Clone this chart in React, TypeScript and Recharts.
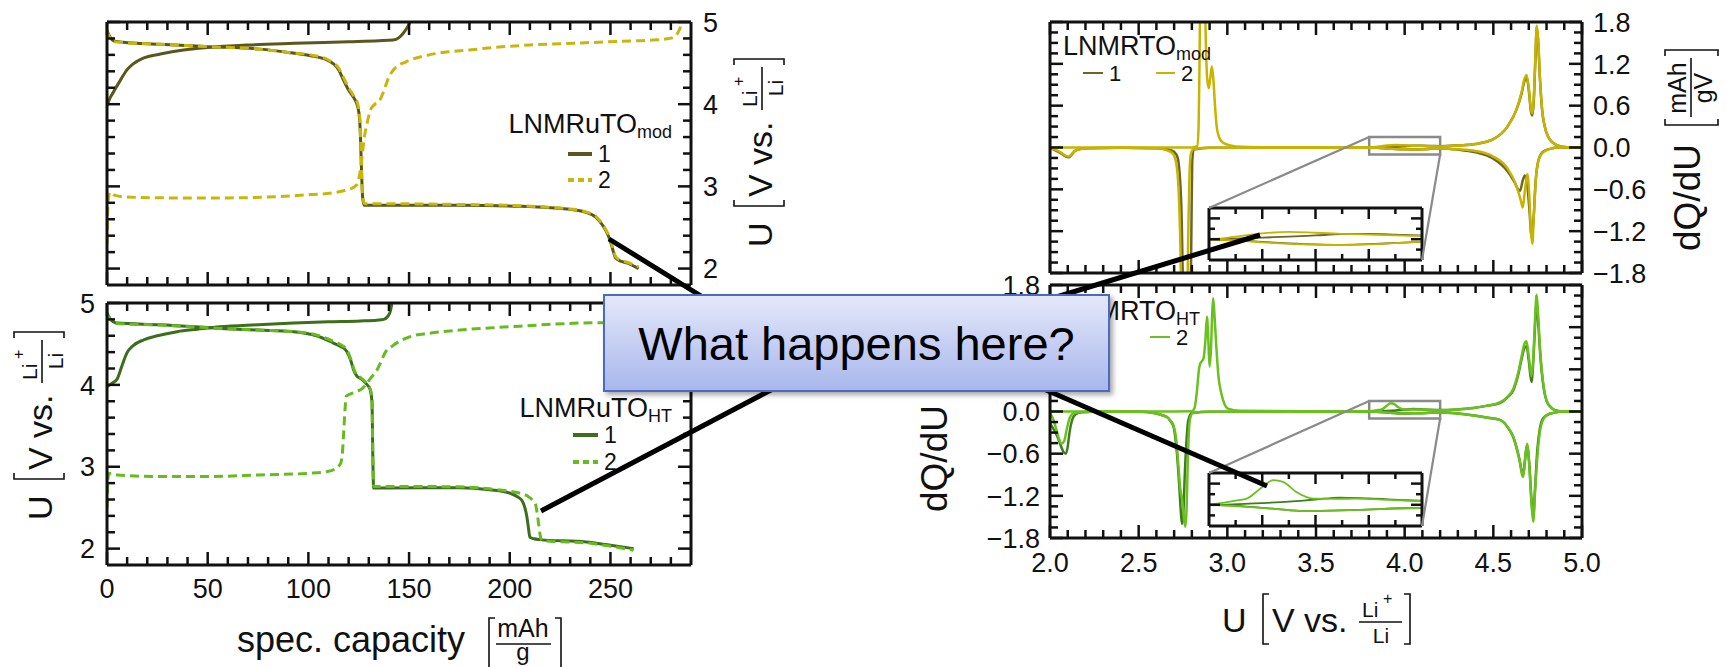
import React from 'react';
import { LineChart, Line, XAxis, YAxis, ReferenceArea } from 'recharts';

const W = 1727;
const H = 667;
const FONT = '"Liberation Sans", Arial, Helvetica, sans-serif';
const INK = '#111';

// ---- tick positions ----
const capTicks = [0, 10, 20, 30, 40, 50, 60, 70, 80, 90, 100, 110, 120, 130, 140, 150, 160, 170, 180, 190, 200, 210, 220, 230, 240, 250, 260, 270, 280];
const voltTicks = [2, 2.2, 2.4, 2.6, 2.8, 3, 3.2, 3.4, 3.6, 3.8, 4, 4.2, 4.4, 4.6, 4.8, 5];
const uTicks = [2, 2.1, 2.2, 2.3, 2.4, 2.5, 2.6, 2.7, 2.8, 2.9, 3, 3.1, 3.2, 3.3, 3.4, 3.5, 3.6, 3.7, 3.8, 3.9, 4, 4.1, 4.2, 4.3, 4.4, 4.5, 4.6, 4.7, 4.8, 4.9, 5];
const dqTicks = [-1.8, -1.65, -1.5, -1.35, -1.2, -1.05, -0.9, -0.75, -0.6, -0.45, -0.3, -0.15, 0, 0.15, 0.3, 0.45, 0.6, 0.75, 0.9, 1.05, 1.2, 1.35, 1.5, 1.65, 1.8];
const insetUTicks = [3.85, 3.9, 3.95, 4, 4.05, 4.1, 4.15];
const insetQTicks = [-0.05, 0, 0.05, 0.1];

// ---- LNMRuTO_mod : capacity [mAh/g] vs U [V] ----
const modCh1: [number, number][] = [[0, 3.98], [1, 4.05], [3, 4.14], [6.6, 4.29], [10, 4.42], [13, 4.49], [18, 4.56], [26.5, 4.61], [38, 4.66], [50, 4.69], [70, 4.72], [93, 4.74], [120, 4.76], [135, 4.772], [142, 4.78], [145, 4.81], [147, 4.86], [149, 4.93], [150.5, 5.0]];
const modDis1: [number, number][] = [[0, 4.9], [1, 4.84], [3.3, 4.77], [8, 4.755], [26, 4.73], [50, 4.7], [76, 4.67], [90, 4.63], [101, 4.59], [108, 4.55], [112.5, 4.49], [115, 4.42], [117.5, 4.29], [120, 4.17], [122.5, 4.08], [124.5, 3.97], [125.5, 3.8], [126, 3.5], [126.5, 3.1], [127, 2.85], [127.8, 2.77], [130, 2.77], [175, 2.77], [205, 2.757], [220, 2.74], [230, 2.72], [237, 2.69], [243, 2.62], [246, 2.53], [248, 2.45], [250, 2.33], [251.5, 2.2], [252.5, 2.13], [255, 2.09], [258, 2.07], [264, 2.0]];
const modCh2: [number, number][] = [[0, 2.3], [0.5, 2.8], [1.5, 2.93], [4, 2.89], [10, 2.87], [30, 2.86], [60, 2.86], [80, 2.87], [101, 2.9], [112, 2.92], [118, 2.95], [121, 2.97], [124, 3.02], [125.5, 3.15], [126.6, 3.35], [127.8, 3.6], [129, 3.75], [130.7, 3.92], [133, 4.0], [135.7, 4.06], [138, 4.2], [140, 4.33], [142, 4.41], [144, 4.46], [148, 4.51], [152, 4.55], [160, 4.6], [167, 4.63], [180, 4.66], [192, 4.69], [210, 4.72], [235, 4.745], [255, 4.765], [271, 4.78], [278, 4.795], [281, 4.81], [283, 4.85], [284.5, 4.92], [285.5, 5.0]];
const modDis2: [number, number][] = [[0, 4.9], [1, 4.83], [3.3, 4.76], [8, 4.75], [26, 4.73], [50, 4.7], [76, 4.67], [90, 4.63], [101, 4.6], [108, 4.56], [112.5, 4.5], [115, 4.44], [117.5, 4.32], [120, 4.2], [122.5, 4.1], [124.5, 4.0], [125.5, 3.85], [126, 3.55], [126.5, 3.1], [127, 2.87], [127.8, 2.79], [130, 2.79], [175, 2.78], [205, 2.765], [220, 2.745], [230, 2.725], [237, 2.695], [243, 2.63], [246, 2.54], [248, 2.46], [250, 2.35], [251.5, 2.22], [252.5, 2.15], [255, 2.1], [258, 2.08], [262, 2.04], [264, 2.02]];

// ---- LNMRuTO_HT : capacity vs U ----
const htCh1: [number, number][] = [[0, 3.98], [2.5, 4.02], [5, 4.07], [7.4, 4.23], [9.9, 4.39], [13, 4.48], [18.2, 4.55], [25, 4.6], [34.8, 4.65], [45, 4.68], [56, 4.71], [75, 4.735], [92.7, 4.755], [110, 4.77], [125.8, 4.78], [134, 4.79], [137.4, 4.8], [139.5, 4.84], [140.7, 4.9], [141.5, 5.0]];
const htDis1: [number, number][] = [[0, 4.88], [0.8, 4.84], [3, 4.77], [5, 4.755], [26.5, 4.735], [56, 4.69], [75, 4.67], [92.7, 4.65], [104, 4.6], [112.5, 4.51], [116, 4.47], [119, 4.41], [121, 4.3], [122.5, 4.18], [124, 4.11], [125.8, 4.08], [128.5, 4.02], [130.7, 3.94], [131.6, 3.78], [132, 3.12], [132.4, 2.74], [135, 2.74], [175, 2.745], [190, 2.72], [200, 2.68], [204, 2.63], [206, 2.59], [207.5, 2.5], [208.5, 2.39], [209.3, 2.25], [210, 2.14], [212, 2.12], [215, 2.11], [238, 2.08], [250, 2.04], [261.5, 2.0]];
const htCh2: [number, number][] = [[0, 2.5], [0.4, 2.8], [0.8, 2.92], [5, 2.9], [26.5, 2.88], [50, 2.88], [76, 2.9], [100, 2.92], [109, 2.94], [113, 2.97], [116, 3.04], [117, 3.2], [117.5, 3.41], [118.2, 3.7], [118.8, 3.86], [121, 3.89], [124, 3.92], [127, 3.96], [129, 4.02], [131.5, 4.1], [134, 4.18], [136, 4.28], [138, 4.39], [142, 4.48], [150.6, 4.59], [160, 4.63], [175.4, 4.67], [200, 4.71], [235, 4.755], [260, 4.765], [275, 4.78], [283, 4.82], [287, 4.95]];
const htDis2: [number, number][] = [[0, 4.88], [0.8, 4.83], [3, 4.77], [5, 4.75], [26.5, 4.73], [56, 4.69], [75, 4.67], [92.7, 4.65], [104, 4.61], [112.5, 4.53], [116, 4.49], [119, 4.43], [121, 4.32], [122.5, 4.2], [124, 4.12], [125.8, 4.09], [128.5, 4.03], [130.7, 3.95], [131.6, 3.8], [132, 3.15], [132.4, 2.76], [135, 2.76], [175, 2.755], [190, 2.73], [200, 2.7], [206, 2.67], [209, 2.64], [211, 2.6], [212.7, 2.55], [213.5, 2.45], [214.3, 2.31], [215, 2.18], [216, 2.1], [220, 2.09], [238, 2.07], [250, 2.03], [261.5, 1.98]];

// ---- LNMRTO_mod : dQ/dU vs U ----
const modQCh1: [number, number][] = [[3.82, 0.0], [3.9, 0.008], [3.95, 0.012], [4.0, 0.018], [4.05, 0.024], [4.1, 0.025], [4.15, 0.022], [4.2, 0.018], [4.3, 0.03], [4.4, 0.05], [4.5, 0.12], [4.58, 0.3], [4.63, 0.54], [4.66, 0.78], [4.675, 0.95], [4.688, 1.0], [4.7, 0.82], [4.712, 0.52], [4.72, 0.46], [4.728, 0.66], [4.737, 1.25], [4.745, 1.72], [4.753, 1.5], [4.763, 0.98], [4.775, 0.54], [4.79, 0.3], [4.81, 0.15], [4.84, 0.06], [4.88, 0.015], [4.95, 0.0], [5.0, 0.0]];
const modQDis1: [number, number][] = [[2.0, -0.01], [2.03, -0.04], [2.06, -0.08], [2.09, -0.13], [2.104, -0.14], [2.12, -0.11], [2.14, -0.05], [2.17, -0.02], [2.22, -0.01], [2.4, -0.005], [2.6, -0.01], [2.67, -0.03], [2.7, -0.06], [2.72, -0.15], [2.74, -0.8], [2.752, -2.2], [2.765, -2.8], [2.79, -2.6], [2.797, -1.3], [2.802, -0.2], [2.81, -0.03], [2.9, -0.005], [3.5, -0.003], [3.8, -0.002], [3.85, -0.005], [3.9, -0.013], [3.95, -0.02], [4.0, -0.025], [4.05, -0.027], [4.1, -0.024], [4.15, -0.018], [4.2, -0.013], [4.3, -0.03], [4.4, -0.07], [4.5, -0.16], [4.58, -0.34], [4.62, -0.5], [4.64, -0.6], [4.651, -0.62], [4.665, -0.48], [4.678, -0.4], [4.692, -0.55], [4.705, -0.95], [4.715, -1.3], [4.725, -1.1], [4.738, -0.5], [4.755, -0.18], [4.78, -0.06], [4.82, -0.02], [4.87, 0.0], [5.0, 0.0]];
const modQCh2: [number, number][] = [[2.0, 0.0], [2.5, 0.0], [2.8, 0.0], [2.83, 0.02], [2.838, 0.3], [2.843, 1.2], [2.848, 2.3], [2.86, 2.8], [2.872, 2.4], [2.878, 1.6], [2.886, 1.0], [2.895, 0.85], [2.904, 1.0], [2.913, 1.16], [2.922, 0.95], [2.93, 0.62], [2.94, 0.3], [2.955, 0.14], [2.97, 0.08], [3.0, 0.04], [3.05, 0.015], [3.2, 0.005], [3.5, 0.002], [3.8, 0.0], [3.85, 0.012], [3.9, 0.028], [3.95, 0.035], [4.0, 0.031], [4.05, 0.026], [4.1, 0.022], [4.15, 0.018], [4.2, 0.016], [4.3, 0.03], [4.4, 0.05], [4.5, 0.12], [4.58, 0.3], [4.63, 0.54], [4.66, 0.8], [4.675, 0.98], [4.688, 1.04], [4.7, 0.85], [4.712, 0.55], [4.72, 0.49], [4.728, 0.7], [4.737, 1.3], [4.745, 1.75], [4.753, 1.55], [4.763, 1.0], [4.775, 0.55], [4.79, 0.3], [4.81, 0.15], [4.84, 0.06], [4.88, 0.015], [4.95, 0.0], [5.0, 0.0]];
const modQDis2: [number, number][] = [[2.0, -0.01], [2.03, -0.03], [2.06, -0.07], [2.09, -0.12], [2.106, -0.13], [2.12, -0.1], [2.14, -0.05], [2.17, -0.02], [2.22, -0.01], [2.4, -0.005], [2.6, -0.01], [2.66, -0.04], [2.69, -0.08], [2.71, -0.2], [2.725, -0.6], [2.735, -1.4], [2.742, -2.5], [2.755, -2.8], [2.772, -2.4], [2.78, -1.2], [2.787, -0.35], [2.795, -0.08], [2.81, -0.02], [2.9, -0.005], [3.2, -0.003], [3.5, -0.003], [3.8, -0.002], [3.85, -0.006], [3.9, -0.015], [3.95, -0.022], [4.0, -0.026], [4.05, -0.028], [4.1, -0.025], [4.15, -0.019], [4.2, -0.013], [4.3, -0.025], [4.4, -0.05], [4.5, -0.13], [4.58, -0.3], [4.63, -0.55], [4.655, -0.76], [4.666, -0.86], [4.678, -0.62], [4.692, -0.38], [4.703, -0.7], [4.712, -1.2], [4.72, -1.38], [4.728, -1.0], [4.74, -0.45], [4.755, -0.18], [4.78, -0.07], [4.82, -0.02], [4.87, 0.0], [5.0, 0.0]];

// ---- LNMRTO_HT : dQ/dU vs U ----
const htQCh1: [number, number][] = [[3.82, 0.0], [3.9, 0.008], [3.95, 0.015], [4.0, 0.025], [4.046, 0.034], [4.1, 0.03], [4.196, 0.02], [4.3, 0.03], [4.388, 0.05], [4.46, 0.08], [4.537, 0.12], [4.58, 0.2], [4.612, 0.3], [4.64, 0.52], [4.659, 0.74], [4.675, 0.9], [4.687, 0.93], [4.7, 0.72], [4.715, 0.42], [4.725, 0.7], [4.735, 1.2], [4.744, 1.55], [4.752, 1.32], [4.762, 0.9], [4.772, 0.58], [4.786, 0.3], [4.8, 0.15], [4.825, 0.06], [4.847, 0.02], [4.9, 0.0], [5.0, 0.0]];
const htQDis1: [number, number][] = [[2.0, -0.17], [2.02, -0.25], [2.04, -0.35], [2.06, -0.48], [2.075, -0.57], [2.09, -0.6], [2.1, -0.5], [2.11, -0.3], [2.125, -0.12], [2.145, -0.04], [2.18, -0.01], [2.3, 0.0], [2.5, -0.005], [2.585, -0.02], [2.63, -0.05], [2.66, -0.08], [2.68, -0.14], [2.697, -0.22], [2.716, -0.6], [2.73, -1.1], [2.74, -1.5], [2.745, -1.6], [2.752, -1.45], [2.76, -0.9], [2.77, -0.4], [2.78, -0.12], [2.8, -0.02], [2.9, -0.005], [3.5, -0.003], [3.8, 0.0], [3.85, -0.005], [3.92, -0.018], [3.98, -0.03], [4.077, -0.024], [4.196, -0.015], [4.3, -0.03], [4.4, -0.06], [4.47, -0.09], [4.537, -0.12], [4.58, -0.22], [4.612, -0.36], [4.635, -0.55], [4.65, -0.72], [4.66, -0.85], [4.668, -0.9], [4.678, -0.7], [4.69, -0.48], [4.703, -0.75], [4.715, -1.25], [4.725, -1.5], [4.735, -1.1], [4.748, -0.55], [4.762, -0.25], [4.78, -0.1], [4.81, -0.04], [4.838, -0.02], [4.9, 0.0], [5.0, 0.0]];
const htQCh2: [number, number][] = [[2.0, 0.0], [2.6, 0.0], [2.8, 0.005], [2.815, 0.05], [2.829, 0.3], [2.84, 0.6], [2.847, 0.68], [2.858, 0.72], [2.866, 0.76], [2.876, 1.0], [2.885, 1.35], [2.893, 1.0], [2.9, 0.64], [2.908, 0.9], [2.914, 1.35], [2.92, 1.61], [2.928, 1.35], [2.938, 0.92], [2.95, 0.5], [2.966, 0.26], [2.985, 0.1], [3.003, 0.04], [3.07, 0.01], [3.4, 0.003], [3.8, 0.003], [3.85, 0.02], [3.871, 0.029], [3.896, 0.076], [3.921, 0.116], [3.939, 0.108], [3.964, 0.06], [3.996, 0.029], [4.04, 0.028], [4.077, 0.029], [4.14, 0.023], [4.196, 0.018], [4.3, 0.03], [4.388, 0.05], [4.46, 0.08], [4.537, 0.13], [4.58, 0.21], [4.612, 0.32], [4.64, 0.55], [4.659, 0.78], [4.675, 0.96], [4.687, 1.0], [4.7, 0.78], [4.715, 0.5], [4.725, 0.75], [4.735, 1.3], [4.744, 1.66], [4.752, 1.4], [4.762, 0.95], [4.772, 0.62], [4.786, 0.32], [4.8, 0.16], [4.825, 0.06], [4.847, 0.02], [4.9, 0.0], [5.0, 0.0]];
const htQDis2: [number, number][] = [[2.0, -0.03], [2.02, -0.12], [2.035, -0.25], [2.05, -0.38], [2.065, -0.46], [2.08, -0.42], [2.095, -0.25], [2.11, -0.1], [2.13, -0.03], [2.17, -0.01], [2.3, 0.0], [2.5, -0.005], [2.585, -0.02], [2.63, -0.05], [2.66, -0.08], [2.68, -0.13], [2.697, -0.2], [2.712, -0.4], [2.725, -0.8], [2.735, -1.1], [2.745, -1.25], [2.755, -1.5], [2.763, -1.64], [2.77, -1.4], [2.776, -0.8], [2.783, -0.3], [2.79, -0.1], [2.805, -0.02], [2.9, -0.005], [3.5, -0.003], [3.8, 0.0], [3.85, -0.006], [3.92, -0.018], [3.98, -0.03], [4.077, -0.024], [4.196, -0.015], [4.3, -0.03], [4.4, -0.06], [4.47, -0.09], [4.537, -0.12], [4.58, -0.22], [4.612, -0.36], [4.635, -0.56], [4.65, -0.72], [4.66, -0.88], [4.668, -0.93], [4.678, -0.72], [4.69, -0.46], [4.703, -0.78], [4.715, -1.3], [4.725, -1.57], [4.735, -1.15], [4.753, -0.5], [4.765, -0.25], [4.78, -0.12], [4.81, -0.04], [4.838, -0.02], [4.9, 0.0], [5.0, 0.0]];

// colours
const MOD1 = '#5a571c';
const MOD2 = '#c9b60c';
const HT1 = '#3c6e1c';
const HT2 = '#66bb1e';
const QMOD1 = '#6b6626';
const QMOD2 = '#c8b400';
const QHT1 = '#3f7d1c';
const QHT2 = '#6ac01f';

type Box = { x0: number; y0: number; x1: number; y1: number };
type Side = 'top' | 'bottom' | 'left' | 'right';
type Series = { data: [number, number][]; color: string; w: number; dash?: string };

const boxTL: Box = { x0: 107, y0: 22, x1: 691, y1: 285 };
const boxBL: Box = { x0: 107, y0: 303, x1: 691, y1: 565 };
const boxTR: Box = { x0: 1050, y0: 22, x1: 1582, y1: 273 };
const boxBR: Box = { x0: 1050, y0: 285, x1: 1582, y1: 538 };
const insetTR: Box = { x0: 1209, y0: 208, x1: 1422, y1: 260 };
const insetBR: Box = { x0: 1209, y0: 473, x1: 1422, y1: 526 };

const capDom: [number, number] = [0, 290];
const voltDom: [number, number] = [1.8, 5];
const uDom: [number, number] = [2, 5];
const dqDom: [number, number] = [-1.8, 1.8];
const zoomU: [number, number] = [3.8, 4.2];
const zoomQ: [number, number] = [-0.1, 0.15];

const pts = (a: [number, number][]) => a.map(([x, y]) => ({ x, y }));
const near = (step: number) => (v: number) => Math.abs(v / step - Math.round(v / step)) < 1e-6;
const intFmt = (v: number) => String(Math.round(v));
const oneFmt = (v: number) => (v < -1e-9 ? '\u2212' : '') + Math.abs(v).toFixed(1);

function makeTick(side: Side, isMajor: (v: number) => boolean, lens: [number, number], fmt?: (v: number) => string, off = 12, fs = 27) {
  return (props: any) => {
    const { x, y, payload } = props;
    const v = Number(payload.value);
    const big = isMajor(v);
    const len = big ? lens[0] : lens[1];
    const dx = side === 'left' ? len : side === 'right' ? -len : 0;
    const dy = side === 'top' ? len : side === 'bottom' ? -len : 0;
    let label: React.ReactNode = null;
    if (fmt && big) {
      const t = { fontFamily: FONT, fontSize: fs, fill: INK };
      if (side === 'bottom') label = <text {...t} x={x} y={y + off} textAnchor="middle">{fmt(v)}</text>;
      if (side === 'left') label = <text {...t} x={x - off} y={y + fs * 0.36} textAnchor="end">{fmt(v)}</text>;
      if (side === 'right') label = <text {...t} x={x + off} y={y + fs * 0.36} textAnchor="start">{fmt(v)}</text>;
    }
    return (
      <g>
        <line x1={x} y1={y} x2={x + dx} y2={y + dy} stroke={INK} strokeWidth={2.5} />
        {label}
      </g>
    );
  };
}

type PanelProps = {
  box: Box; left: number; top: number; w: number; h: number;
  xDom: [number, number]; yDom: [number, number];
  xTicks: number[]; yTicks: number[];
  xMajor: (v: number) => boolean; yMajor: (v: number) => boolean;
  lens: [number, number];
  xFmt?: (v: number) => string; yFmt?: (v: number) => string;
  labels: Side[]; xOff?: number; yOff?: number;
  series: Series[]; axisW?: number; extra?: React.ReactNode; bg?: boolean;
};

function Panel(p: PanelProps) {
  const aw = p.axisW ?? 3;
  const common = {
    type: 'number' as const, tickLine: false, tickSize: 0, tickMargin: 0, interval: 0 as const,
    allowDataOverflow: true, axisLine: { stroke: INK, strokeWidth: aw },
  };
  const has = (s: Side) => p.labels.includes(s);
  const m = {
    left: p.box.x0 - p.left - 1, top: p.box.y0 - p.top - 1,
    right: p.left + p.w - p.box.x1 - 1, bottom: p.top + p.h - p.box.y1 - 1,
  };
  return (
    <div style={{ position: 'absolute', left: p.left, top: p.top }}>
      {p.bg && (
        <div style={{ position: 'absolute', left: p.box.x0 - p.left, top: p.box.y0 - p.top, width: p.box.x1 - p.box.x0, height: p.box.y1 - p.box.y0, background: '#fff' }} />
      )}
      <LineChart width={p.w} height={p.h} margin={m}>
        <XAxis xAxisId="b" orientation="bottom" dataKey="x" height={1} domain={p.xDom} ticks={p.xTicks}
          tick={makeTick('bottom', p.xMajor, p.lens, has('bottom') ? p.xFmt : undefined, p.xOff)} {...common} />
        <XAxis xAxisId="t" orientation="top" dataKey="x" height={1} domain={p.xDom} ticks={p.xTicks}
          tick={makeTick('top', p.xMajor, p.lens)} {...common} />
        <YAxis yAxisId="l" orientation="left" width={1} domain={p.yDom} ticks={p.yTicks}
          tick={makeTick('left', p.yMajor, p.lens, has('left') ? p.yFmt : undefined, p.yOff)} {...common} />
        <YAxis yAxisId="r" orientation="right" width={1} domain={p.yDom} ticks={p.yTicks}
          tick={makeTick('right', p.yMajor, p.lens, has('right') ? p.yFmt : undefined, p.yOff)} {...common} />
        {p.extra}
        {p.series.map((s, i) => (
          <Line key={i} xAxisId="b" yAxisId="l" data={pts(s.data)} dataKey="y" type="monotone"
            stroke={s.color} strokeWidth={s.w} strokeDasharray={s.dash} dot={false} activeDot={false}
            isAnimationActive={false} />
        ))}
      </LineChart>
    </div>
  );
}

const toPx = (b: Box, xd: [number, number], yd: [number, number], x: number, y: number) => [
  b.x0 + ((x - xd[0]) / (xd[1] - xd[0])) * (b.x1 - b.x0),
  b.y1 - ((y - yd[0]) / (yd[1] - yd[0])) * (b.y1 - b.y0),
];

function UVLabel({ x, y, rot = 0 }: { x: number; y: number; rot?: number }) {
  return (
    <g transform={`translate(${x} ${y}) rotate(${rot})`} fontFamily={FONT} fill={INK}>
      <text x={0} y={0} fontSize={34}>U</text>
      <path d="M47 -38 H41 V12 H47" fill="none" stroke={INK} strokeWidth={1.6} />
      <text x={50} y={0} fontSize={34}>V vs.</text>
      <text x={140} y={-15} fontSize={21}>Li</text>
      <text x={161} y={-28} fontSize={16}>+</text>
      <line x1={137} x2={180} y1={-10} y2={-10} stroke={INK} strokeWidth={1.6} />
      <text x={159} y={11} fontSize={21} textAnchor="middle">Li</text>
      <path d="M182 -38 H188 V12 H182" fill="none" stroke={INK} strokeWidth={1.6} />
    </g>
  );
}

function DQLabel({ x, y }: { x: number; y: number }) {
  return (
    <g transform={`translate(${x} ${y}) rotate(-90)`} fontFamily={FONT} fill={INK}>
      <text x={0} y={0} fontSize={37}>dQ/dU</text>
      <path d="M132 -35 H126 V18 H132" fill="none" stroke={INK} strokeWidth={1.6} />
      <text x={163} y={-14} fontSize={25} textAnchor="middle">mAh</text>
      <line x1={134} x2={193} y1={-9} y2={-9} stroke={INK} strokeWidth={1.6} />
      <text x={163} y={12} fontSize={25} textAnchor="middle">gV</text>
      <path d="M195 -35 H201 V18 H195" fill="none" stroke={INK} strokeWidth={1.6} />
    </g>
  );
}

function LegendTitle({ x, y, main, sub, anchor }: { x: number; y: number; main: string; sub: string; anchor: 'start' | 'end' }) {
  return (
    <text x={x} y={y} textAnchor={anchor} fontFamily={FONT} fontSize={27} fill={INK}>
      {main}
      <tspan fontSize={18} dy={5}>{sub}</tspan>
    </text>
  );
}

function LegendItem({ x1, x2, y, color, w, dash, label, fs = 23 }: { x1: number; x2: number; y: number; color: string; w: number; dash?: string; label: string; fs?: number }) {
  return (
    <g>
      <line x1={x1} x2={x2} y1={y} y2={y} stroke={color} strokeWidth={w} strokeDasharray={dash} />
      <text x={x2 + 6} y={y + fs * 0.36} fontFamily={FONT} fontSize={fs} fill={INK}>{label}</text>
    </g>
  );
}

export default function App() {
  const leftCommon = {
    left: 0, top: 0, w: W, h: H, xDom: capDom, yDom: voltDom, xTicks: capTicks, yTicks: voltTicks,
    xMajor: near(50), yMajor: near(1), lens: [13, 8] as [number, number], xFmt: intFmt, yFmt: intFmt,
  };
  const rightCommon = {
    left: 0, top: 0, w: W, h: H, xDom: uDom, yDom: dqDom, xTicks: uTicks, yTicks: dqTicks,
    xMajor: near(0.5), yMajor: near(0.6), lens: [13, 8] as [number, number], xFmt: oneFmt, yFmt: oneFmt,
  };
  const rect = (
    <ReferenceArea xAxisId="b" yAxisId="l" x1={zoomU[0]} x2={zoomU[1]} y1={zoomQ[0]} y2={zoomQ[1]}
      fill="none" fillOpacity={0} stroke="#8a8a8a" strokeWidth={2.5} ifOverflow="visible" />
  );
  const trSeries: Series[] = [
    { data: modQDis1, color: QMOD1, w: 2.5 }, { data: modQCh1, color: QMOD1, w: 2.5 },
    { data: modQDis2, color: QMOD2, w: 2.5 }, { data: modQCh2, color: QMOD2, w: 2.5 },
  ];
  const brSeries: Series[] = [
    { data: htQDis1, color: QHT1, w: 2.5 }, { data: htQCh1, color: QHT1, w: 2.5 },
    { data: htQDis2, color: QHT2, w: 2.5 }, { data: htQCh2, color: QHT2, w: 2.5 },
  ];
  const thin = (s: Series[]) => s.map((d) => ({ ...d, w: 1.8 }));
  const insetCommon = {
    xDom: zoomU, yDom: zoomQ, xTicks: insetUTicks, yTicks: insetQTicks,
    xMajor: near(0.1), yMajor: near(0.1), lens: [11, 6] as [number, number], labels: [] as Side[], bg: true,
  };
  const [trA, trB] = [toPx(boxTR, uDom, dqDom, zoomU[0], zoomQ[1]), toPx(boxTR, uDom, dqDom, zoomU[1], zoomQ[0])];
  const [brA, brB] = [toPx(boxBR, uDom, dqDom, zoomU[0], zoomQ[1]), toPx(boxBR, uDom, dqDom, zoomU[1], zoomQ[0])];

  return (
    <div style={{ position: 'absolute', left: 0, top: 0, width: W, height: H, background: '#fff', overflow: 'hidden', fontFamily: FONT }}>
      <Panel {...leftCommon} box={boxTL} labels={['right']} yOff={12}
        series={[
          { data: modDis1, color: MOD1, w: 3 }, { data: modCh1, color: MOD1, w: 3 },
          { data: modDis2, color: MOD2, w: 3, dash: '9 5' }, { data: modCh2, color: MOD2, w: 3, dash: '9 5' },
        ]} />
      <Panel {...leftCommon} box={boxBL} labels={['left', 'bottom']} yOff={12} xOff={33}
        series={[
          { data: htDis1, color: HT1, w: 3 }, { data: htCh1, color: HT1, w: 3 },
          { data: htDis2, color: HT2, w: 3, dash: '9 5' }, { data: htCh2, color: HT2, w: 3, dash: '9 5' },
        ]} />
      <Panel {...rightCommon} box={boxTR} labels={['right']} yOff={11} series={trSeries} extra={rect} />
      <Panel {...rightCommon} box={boxBR} labels={['left', 'bottom']} yOff={10} xOff={34} series={brSeries} extra={rect} />

      <Panel {...insetCommon} box={insetTR} left={insetTR.x0 - 6} top={insetTR.y0 - 6}
        w={insetTR.x1 - insetTR.x0 + 12} h={insetTR.y1 - insetTR.y0 + 12} series={thin(trSeries)} />
      <Panel {...insetCommon} box={insetBR} left={insetBR.x0 - 6} top={insetBR.y0 - 6}
        w={insetBR.x1 - insetBR.x0 + 12} h={insetBR.y1 - insetBR.y0 + 12} series={thin(brSeries)} />

      <svg width={W} height={H} style={{ position: 'absolute', left: 0, top: 0, pointerEvents: 'none' }}>
        {/* zoom connectors */}
        <line x1={trA[0]} y1={trA[1]} x2={insetTR.x0} y2={insetTR.y0} stroke="#8a8a8a" strokeWidth={2.2} />
        <line x1={trB[0]} y1={trB[1]} x2={insetTR.x1} y2={insetTR.y1} stroke="#8a8a8a" strokeWidth={2.2} />
        <line x1={brA[0]} y1={brA[1]} x2={insetBR.x0} y2={insetBR.y0} stroke="#8a8a8a" strokeWidth={2.2} />
        <line x1={brB[0]} y1={brB[1]} x2={insetBR.x1} y2={insetBR.y1} stroke="#8a8a8a" strokeWidth={2.2} />

        {/* axis titles */}
        <UVLabel x={772} y={247} rot={-90} />
        <UVLabel x={52} y={520} rot={-90} />
        <UVLabel x={1222} y={632} />
        <DQLabel x={1700} y={251} />
        <DQLabel x={947} y={512} />
        <g fontFamily={FONT} fill={INK}>
          <text x={237} y={652} fontSize={36}>spec. capacity</text>
          <path d="M495 618 H489 V672 H495" fill="none" stroke={INK} strokeWidth={1.6} />
          <text x={523} y={637} fontSize={25} textAnchor="middle">mAh</text>
          <line x1={496} x2={551} y1={644} y2={644} stroke={INK} strokeWidth={1.6} />
          <text x={523} y={660} fontSize={24} textAnchor="middle">g</text>
          <path d="M555 618 H561 V672 H555" fill="none" stroke={INK} strokeWidth={1.6} />
        </g>

        {/* legends */}
        <LegendTitle x={672} y={133} main="LNMRuTO" sub="mod" anchor="end" />
        <LegendItem x1={568} x2={592} y={154} color={MOD1} w={4} label="1" />
        <LegendItem x1={568} x2={592} y={180} color={MOD2} w={4} dash="6 4" label="2" />
        <LegendTitle x={672} y={417} main="LNMRuTO" sub="HT" anchor="end" />
        <LegendItem x1={573} x2={598} y={435} color={HT1} w={4} label="1" />
        <LegendItem x1={573} x2={598} y={462} color={HT2} w={4} dash="6 4" label="2" />
        <LegendTitle x={1063} y={55} main="LNMRTO" sub="mod" anchor="start" />
        <LegendItem x1={1083} x2={1103} y={73} color={QMOD1} w={2} label="1" fs={22} />
        <LegendItem x1={1156} x2={1175} y={73} color={QMOD2} w={2} label="2" fs={22} />
        <LegendTitle x={1063} y={320} main="LNMRTO" sub="HT" anchor="start" />
        <LegendItem x1={1066} x2={1086} y={337} color={QHT1} w={2} label="1" fs={22} />
        <LegendItem x1={1150} x2={1170} y={337} color={QHT2} w={2} label="2" fs={22} />

        {/* callout pointers */}
        <line x1={609} y1={239} x2={730} y2={314} stroke="#000" strokeWidth={5} />
        <line x1={541} y1={511} x2={790} y2={380} stroke="#000" strokeWidth={5} />
        <line x1={1260} y1={235} x2={1040} y2={302} stroke="#000" strokeWidth={5} />
        <line x1={1267} y1={486} x2={1030} y2={383} stroke="#000" strokeWidth={5} />
      </svg>

      <div style={{
        position: 'absolute', left: 603, top: 294, width: 507, height: 98, boxSizing: 'border-box',
        border: '2px solid #4a6cc0', background: 'linear-gradient(to bottom, #e4e8fa, #a8b7ec)',
        boxShadow: '3px 3px 5px rgba(0,0,0,0.35)', display: 'flex', alignItems: 'center', justifyContent: 'center',
        fontFamily: FONT, fontSize: 47, color: '#000',
      }}>
        What happens here?
      </div>
    </div>
  );
}
